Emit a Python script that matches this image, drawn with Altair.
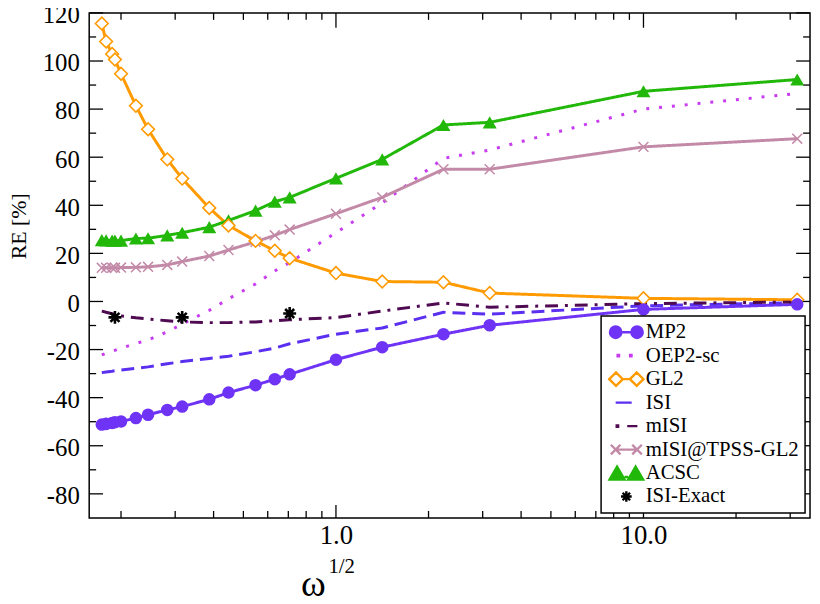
import altair as alt
import pandas as pd

# ---------------- data ----------------
XS = [0.1732, 0.1789, 0.1871, 0.1911, 0.2, 0.2236, 0.2449, 0.2828, 0.3162, 0.3873,
      0.4472, 0.5477, 0.6325, 0.7071, 1.0, 1.4142, 2.2361, 3.1623, 10.0, 31.623]

MP2 = [-51.2, -50.9, -50.5, -50.2, -49.9, -48.5, -47.1, -45.1, -43.7, -40.7,
       -37.9, -34.8, -32.3, -30.3, -24.2, -19.0, -13.6, -9.9, -3.3, -1.2]
OEP2 = [-22.2, -21.5, -20.7, -20.3, -19.4, -17.5, -16.0, -12.6, -9.4, -3.7,
        1.1, 7.3, 12.7, 16.2, 28.6, 41.0, 59.5, 63.0, 80.0, 86.5]
GL2 = [115.6, 108.1, 102.9, 100.6, 94.7, 81.4, 71.6, 59.1, 51.1, 38.9,
       31.6, 25.2, 21.1, 18.0, 11.8, 8.3, 8.0, 3.5, 1.3, 0.7]
ISI = [-29.6, -29.3, -29.0, -28.8, -28.5, -27.8, -27.2, -25.9, -25.0, -23.7,
       -22.8, -20.9, -19.4, -17.6, -13.6, -11.0, -4.5, -5.3, -1.8, -0.5]
MISI = [-4.0, -4.5, -5.1, -5.4, -6.0, -6.8, -7.3, -8.0, -8.5, -8.8,
        -8.8, -8.5, -8.0, -7.6, -6.7, -4.0, -0.6, -2.4, -0.9, -0.2]
TPSS = [14.0, 14.0, 14.0, 14.0, 14.1, 14.2, 14.4, 15.2, 16.6, 18.9,
        21.4, 24.8, 27.5, 29.9, 36.5, 43.3, 55.0, 55.0, 64.3, 67.7]
ACSC = [25.5, 25.4, 25.3, 25.3, 25.3, 26.2, 26.3, 27.5, 28.6, 30.9,
        33.7, 37.8, 41.5, 43.3, 51.2, 59.1, 73.4, 74.5, 87.4, 92.3]
EXACT_X = [0.1911, 0.3162, 0.7071]
EXACT_Y = [-6.6, -6.6, -5.0]

SERIES = ["MP2", "OEP2-sc", "GL2", "ISI", "mISI", "mISI@TPSS-GL2", "ACSC", "ISI-Exact"]
COLORS = ["#6f33f6", "#c83cf0", "#ff9a00", "#5a2ff0", "#4f0a52", "#c38aa8", "#22b80a", "#000000"]

Y_MAJOR = [-80, -60, -40, -20, 0, 20, 40, 60, 80, 100, 120]
Y_MINOR = [-70, -50, -30, -10, 10, 30, 50, 70, 90, 110]
X_MAJOR = [1.0, 10.0]
X_MINOR = [0.2, 0.3, 0.4, 0.5, 0.6, 0.7, 0.8, 0.9, 2, 3, 4, 5, 6, 7, 8, 9, 20, 30]

# ---------------- tables ----------------
vals = {"MP2": MP2, "OEP2-sc": OEP2, "GL2": GL2, "ISI": ISI, "mISI": MISI,
        "mISI@TPSS-GL2": TPSS, "ACSC": ACSC}
rows = []
for s, ys in vals.items():
    for xv, yv in zip(XS, ys):
        rows.append({"series": s, "x": xv, "y": yv})
for xv, yv in zip(EXACT_X, EXACT_Y):
    rows.append({"series": "ISI-Exact", "x": xv, "y": yv})
df = pd.DataFrame(rows)

W, H = 728, 510
FONT = "Liberation Serif"
cmap = dict(zip(SERIES, COLORS))

xscale = alt.Scale(type="log", domain=[0.1576, 34.8], nice=False, zero=False)
yscale = alt.Scale(domain=[-90, 120], nice=False, zero=False)

xaxis = alt.Axis(values=X_MAJOR, format=".1f", ticks=False, domain=False, grid=False,
                 labelFont=FONT, labelFontSize=27, labelPadding=5, labelColor="black",
                 labelFlush=False, labelOverlap=False,
                 title="ω", titleFont=FONT, titleFontSize=38, titleFontWeight="normal",
                 titleColor="black", titleX=226, titleY=78, titleBaseline="alphabetic",
                 titleAlign="center")
yaxis = alt.Axis(values=Y_MAJOR, labelExpr="'' + datum.value", ticks=False, domain=False,
                 grid=False, labelFont=FONT, labelFontSize=25, labelPadding=10,
                 labelColor="black", labelFlush=False, labelOverlap=False, labelOffset=2,
                 title="RE [%]", titleFont=FONT, titleFontSize=22, titleFontWeight="normal",
                 titleColor="black", titleX=-71, titleY=215, titleAngle=270,
                 titleAlign="center", titleBaseline="middle")


def X(f):
    return alt.X(f + ":Q", scale=xscale, axis=xaxis)


def Y(f):
    return alt.Y(f + ":Q", scale=yscale, axis=yaxis)


# ---------------- lines ----------------
LINE_SERIES = ["ISI", "mISI", "OEP2-sc", "mISI@TPSS-GL2", "ACSC", "GL2", "MP2"]
DASHES = {"MP2": [1, 0], "OEP2-sc": [3, 10], "GL2": [1, 0], "ISI": [13, 7],
          "mISI": [13, 7, 3, 7], "mISI@TPSS-GL2": [1, 0], "ACSC": [1, 0]}
line_df = df[df.series != "ISI-Exact"]
lines = alt.Chart(line_df).mark_line(strokeWidth=3, clip=True).encode(
    x=X("x"), y=Y("y"),
    color=alt.Color("series:N", scale=alt.Scale(domain=LINE_SERIES,
                                               range=[cmap[s] for s in LINE_SERIES]),
                    legend=None),
    strokeDash=alt.StrokeDash("series:N", scale=alt.Scale(domain=LINE_SERIES,
                                                         range=[DASHES[s] for s in LINE_SERIES]),
                              legend=None),
)

XPATH = "M-1,-1L1,1M-1,1L1,-1"
ASTER = "M-1,0L1,0M0,-1L0,1M-0.7,-0.7L0.7,0.7M-0.7,0.7L0.7,-0.7"


def pts(name, **kw):
    return alt.Chart(df[df.series == name]).mark_point(opacity=1, clip=True, **kw).encode(
        x=X("x"), y=Y("y"))


p_tpss = pts("mISI@TPSS-GL2", shape=XPATH, filled=False, stroke=cmap["mISI@TPSS-GL2"],
             strokeWidth=1.5, size=100)
p_acsc = pts("ACSC", shape="triangle-up", filled=True, fill=cmap["ACSC"], size=200)
p_gl2 = pts("GL2", shape="diamond", filled=True, fill="white", stroke=cmap["GL2"],
            strokeWidth=1.6, size=165)
p_mp2 = pts("MP2", shape="circle", filled=True, fill=cmap["MP2"], size=160)
p_ex = pts("ISI-Exact", shape=ASTER, filled=False, stroke="black", strokeWidth=2.6, size=170)

# ---------------- legend (custom glyph paths) ----------------
def circ(cx, cy, r):
    k = 0.5523 * r
    return (f"M{cx + r:.3f},{cy:.3f}C{cx + r:.3f},{cy + k:.3f} {cx + k:.3f},{cy + r:.3f} {cx:.3f},{cy + r:.3f}"
            f"C{cx - k:.3f},{cy + r:.3f} {cx - r:.3f},{cy + k:.3f} {cx - r:.3f},{cy:.3f}"
            f"C{cx - r:.3f},{cy - k:.3f} {cx - k:.3f},{cy - r:.3f} {cx:.3f},{cy - r:.3f}"
            f"C{cx + k:.3f},{cy - r:.3f} {cx + r:.3f},{cy - k:.3f} {cx + r:.3f},{cy:.3f}Z")


def sq(cx, cy, h):
    return f"M{cx - h:.3f},{cy - h:.3f}L{cx + h:.3f},{cy - h:.3f}L{cx + h:.3f},{cy + h:.3f}L{cx - h:.3f},{cy + h:.3f}Z"


def dia(cx, cy, r):
    return f"M{cx - r:.3f},{cy:.3f}L{cx:.3f},{cy - r:.3f}L{cx + r:.3f},{cy:.3f}L{cx:.3f},{cy + r:.3f}Z"


def xx(cx, cy, h):
    return f"M{cx - h:.3f},{cy - h:.3f}L{cx + h:.3f},{cy + h:.3f}M{cx - h:.3f},{cy + h:.3f}L{cx + h:.3f},{cy - h:.3f}"


def tri(cx, cy, hw, hh):
    return f"M{cx:.3f},{cy - hh:.3f}L{cx - hw:.3f},{cy + hh:.3f}L{cx + hw:.3f},{cy + hh:.3f}Z"


def aster(cx, cy, h):
    d = h * 0.7
    return (f"M{cx - h:.3f},{cy:.3f}L{cx + h:.3f},{cy:.3f}M{cx:.3f},{cy - h:.3f}L{cx:.3f},{cy + h:.3f}"
            f"M{cx - d:.3f},{cy - d:.3f}L{cx + d:.3f},{cy + d:.3f}M{cx - d:.3f},{cy + d:.3f}L{cx + d:.3f},{cy - d:.3f}")


LEG_PATHS = [
    "M-0.6,0L0.6,0" + circ(-0.6, 0, 0.32) + circ(0.6, 0, 0.32),
    sq(-0.45, 0, 0.04) + sq(0.25, 0, 0.04),
    "M-0.22,0L0.22,0" + dia(-0.58, 0, 0.38) + dia(0.58, 0, 0.38),
    "M-0.6,0L0.3,0",
    sq(-0.5, 0, 0.04) + "M0.05,0L0.62,0",
    "M-0.6,0L0.6,0" + xx(-0.6, 0, 0.27) + xx(0.6, 0, 0.27),
    "M-0.1,0.22L0.1,0.22" + tri(-0.52, 0, 0.42, 0.36) + tri(0.52, 0, 0.42, 0.36),
    aster(0, 0, 0.3),
]
LEG_FILLS = [cmap["MP2"], cmap["OEP2-sc"], "white", "transparent", cmap["mISI"],
             "transparent", cmap["ACSC"], "black"]
LEG_STROKES = COLORS

LEG = alt.Legend(title=None, orient="none", legendX=517, legendY=306, padding=6,
                 fillColor="white", strokeColor="black",
                 symbolSize=1296, symbolStrokeWidth=2.4, symbolOpacity=1,
                 labelOffset=0, clipHeight=21, rowPadding=1.7,
                 labelFont=FONT, labelFontSize=21, labelColor="black", labelLimit=400)

legend_layer = alt.Chart(df).mark_point(opacity=0, filled=True).encode(
    x=X("x"), y=Y("y"),
    shape=alt.Shape("series:N", scale=alt.Scale(domain=SERIES, range=LEG_PATHS), legend=LEG),
    fill=alt.Fill("series:N", scale=alt.Scale(domain=SERIES, range=LEG_FILLS), legend=LEG),
    stroke=alt.Stroke("series:N", scale=alt.Scale(domain=SERIES, range=LEG_STROKES), legend=LEG),
)

# ---------------- inward ticks on all four sides ----------------
def yticks(v, length, side):
    d = pd.DataFrame({"tv": v})
    if side == "left":
        xe = dict(x=alt.value(0), x2=alt.value(length))
    else:
        xe = dict(x=alt.value(W - length), x2=alt.value(W))
    return alt.Chart(d).mark_rule(color="black", strokeWidth=1.3).encode(y=Y("tv"), **xe)


def xticks(v, length, side):
    d = pd.DataFrame({"tv": v})
    if side == "bottom":
        ye = dict(y=alt.value(H - length), y2=alt.value(H))
    else:
        ye = dict(y=alt.value(0), y2=alt.value(length))
    return alt.Chart(d).mark_rule(color="black", strokeWidth=1.3).encode(x=X("tv"), **ye)


ticks = [yticks(Y_MAJOR, 14, "left"), yticks(Y_MINOR, 7, "left"),
         yticks(Y_MAJOR, 14, "right"), yticks(Y_MINOR, 7, "right"),
         xticks(X_MAJOR, 13, "bottom"), xticks(X_MINOR, 7, "bottom"),
         xticks(X_MAJOR, 15, "top"), xticks(X_MINOR, 7, "top")]

sup = alt.Chart(pd.DataFrame({"lbl": ["1/2"]})).mark_text(
    font=FONT, fontSize=21, align="center", baseline="alphabetic", color="black").encode(
    text="lbl:N", x=alt.value(255), y=alt.value(566))

chart = alt.layer(
    *ticks, lines, p_tpss, p_acsc, p_gl2, p_mp2, p_ex, legend_layer, sup
).properties(
    width=W, height=H,
    autosize=alt.AutoSizeParams(type="none"),
    padding={"left": 82, "top": 2, "right": 2, "bottom": 84},
).configure(
    background="white", font=FONT
).configure_view(
    stroke="black", strokeWidth=1.5
).configure_axis(
    labelFont=FONT, titleFont=FONT
).configure_legend(
    labelFont=FONT, strokeWidth=1.5
).configure_text(font=FONT)

chart.save("out.html", embed_options={"renderer": "svg", "actions": False})
